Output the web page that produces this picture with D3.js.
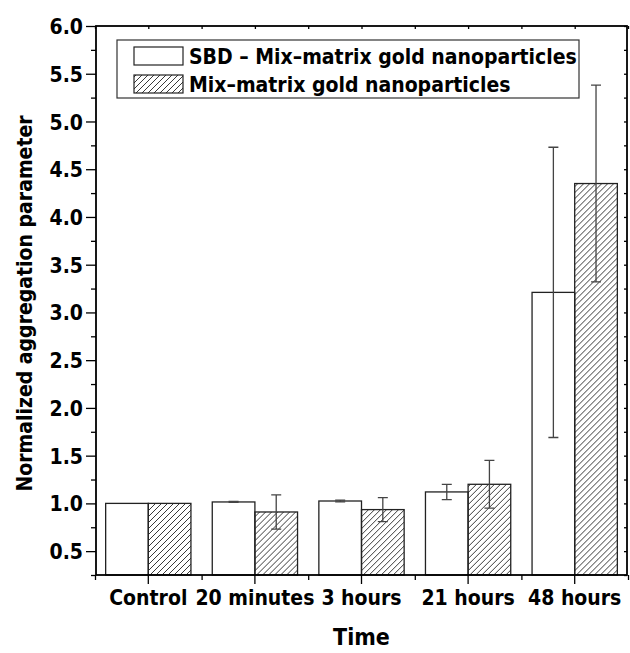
<!DOCTYPE html>
<html>
<head>
<meta charset="utf-8">
<script src="https://cdn.jsdelivr.net/npm/d3@7"></script>
<style>
  body { margin: 0; background: #fff; }
  svg { display: block; }
  text { font-family: "DejaVu Sans Condensed", "DejaVu Sans", sans-serif; font-stretch: condensed; font-weight: bold; fill: #000; }
</style>
</head>
<body>
<svg id="chart"></svg>
<script>
// data
var categories = ["Control", "20 minutes", "3 hours", "21 hours", "48 hours"];
var seriesNames = ["SBD \u2013 Mix\u2013matrix gold nanoparticles", "Mix\u2013matrix gold nanoparticles"];
var sbdValues = [1.0, 1.015, 1.025, 1.12, 3.21];
var sbdErrors = [0, 0.005, 0.01, 0.08, 1.52];
var mixValues = [1.0, 0.91, 0.935, 1.20, 4.35];
var mixErrors = [0, 0.18, 0.125, 0.25, 1.03];
var yTicks = [0.5, 1.0, 1.5, 2.0, 2.5, 3.0, 3.5, 4.0, 4.5, 5.0, 5.5, 6.0];

var width = 630, height = 653;
var plotL = 96, plotR = 627, plotT = 26, plotB = 575;

var svg = d3.select("#chart")
  .attr("width", width)
  .attr("height", height);

// hatch pattern for the second series
var defs = svg.append("defs");
defs.append("pattern")
  .attr("id", "hatch")
  .attr("patternUnits", "userSpaceOnUse")
  .attr("width", 6)
  .attr("height", 6)
  .append("path")
  .attr("d", "M-1,1 l2,-2 M0,6 l6,-6 M5,7 l2,-2")
  .attr("stroke", "#222")
  .attr("stroke-width", 0.9);

var x = d3.scaleBand().domain(categories).range([plotL - 1, plotR + 1]);
var xSub = d3.scaleBand().domain([0, 1]).range([0, x.bandwidth()]).paddingOuter(0.25);
var y = d3.scaleLinear().domain([0.25, 6.0]).range([plotB, plotT]);

var rows = categories.map(function(c, i) {
  return { cat: c, vals: [sbdValues[i], mixValues[i]], errs: [sbdErrors[i], mixErrors[i]] };
});

// bars
var groups = svg.selectAll(".grp")
  .data(rows)
  .enter().append("g")
  .attr("class", "grp")
  .attr("transform", function(d) { return "translate(" + x(d.cat) + ",0)"; });

groups.selectAll("rect")
  .data(function(d) { return d.vals.map(function(v, k) { return { k: k, v: v }; }); })
  .enter().append("rect")
  .attr("x", function(d) { return xSub(d.k); })
  .attr("width", xSub.bandwidth())
  .attr("y", function(d) { return y(d.v); })
  .attr("height", function(d) { return y(0.25) - y(d.v); })
  .attr("fill", function(d) { return d.k == 0 ? "#fff" : "url(#hatch)"; })
  .attr("stroke", "#222")
  .attr("stroke-width", 1.3);

// error bars
var capW = 5;
groups.selectAll(".err")
  .data(function(d) { return d.vals.map(function(v, k) { return { k: k, v: v, e: d.errs[k] }; }).filter(function(p) { return p.e > 0; }); })
  .enter().append("path")
  .attr("class", "err")
  .attr("fill", "none")
  .attr("stroke", "#444")
  .attr("stroke-width", 1.3)
  .attr("d", function(d) {
    var cx = xSub(d.k) + xSub.bandwidth() / 2;
    var y1 = y(d.v + d.e), y0 = y(d.v - d.e);
    return "M" + cx + "," + y1 + "V" + y0 +
      "M" + (cx - capW) + "," + y1 + "H" + (cx + capW) +
      "M" + (cx - capW) + "," + y0 + "H" + (cx + capW);
  });

// axes
var minorY = d3.range(0.25, 6.01, 0.25).filter(function(v) { return Math.abs(v * 2 - Math.round(v * 2)) > 0.01; });

var yAxis = d3.axisLeft(y).tickValues(yTicks).tickFormat(d3.format(".1f")).tickSize(10).tickPadding(3);
var gy = svg.append("g").attr("transform", "translate(" + plotL + ",0)").call(yAxis);
gy.selectAll("text").style("font-size", "21px").attr("dy", "0.36em");
svg.append("g").attr("transform", "translate(" + plotL + ",0)")
  .call(d3.axisLeft(y).tickValues(minorY).tickSize(5).tickFormat(""));

// right side mirror ticks
svg.append("g").attr("transform", "translate(" + plotR + ",0)")
  .call(d3.axisLeft(y).tickValues(yTicks.concat(minorY)).tickSize(3).tickFormat(""));

var centers = categories.map(function(c) { return x(c) + x.bandwidth() / 2; });
var bounds = categories.map(function(c) { return x(c); }).concat([x.range()[1]]);
var xLin = d3.scaleLinear().domain([0, 1]).range([0, 1]);

var xAxis = d3.axisBottom(x).tickSize(9).tickPadding(6);
var gx = svg.append("g").attr("transform", "translate(0," + plotB + ")").call(xAxis);
gx.selectAll("text").style("font-size", "21px").attr("dy", "0.71em");
svg.append("g").attr("transform", "translate(0," + plotB + ")")
  .call(d3.axisBottom(xLin).tickValues(bounds).tickSize(5).tickFormat(""));
svg.append("g").attr("transform", "translate(0," + plotT + ")")
  .call(d3.axisBottom(xLin).tickValues(centers.concat(bounds)).tickSize(3).tickFormat(""));

svg.selectAll(".domain").remove();
svg.selectAll(".tick line").attr("stroke", "#000").attr("stroke-width", 1.3);

// frame
svg.append("rect")
  .attr("x", plotL).attr("y", plotT)
  .attr("width", plotR - plotL).attr("height", plotB - plotT)
  .attr("fill", "none").attr("stroke", "#000").attr("stroke-width", 1.8);

// axis titles
svg.append("text")
  .attr("transform", "translate(32," + ((plotT + plotB) / 2 + 3) + ") rotate(-90)")
  .attr("text-anchor", "middle")
  .style("font-size", "21px")
  .text("Normalized aggregation parameter");

svg.append("text")
  .attr("x", (plotL + plotR) / 2)
  .attr("y", 645)
  .attr("text-anchor", "middle")
  .style("font-size", "23px")
  .text("Time");

// legend
var lg = svg.append("g").attr("transform", "translate(117,40)");
lg.append("rect").attr("width", 462).attr("height", 58)
  .attr("fill", "#fff").attr("stroke", "#333").attr("stroke-width", 1.2);
seriesNames.forEach(function(name, k) {
  lg.append("rect")
    .attr("x", 17).attr("y", 7 + k * 28)
    .attr("width", 49).attr("height", 18)
    .attr("fill", k == 0 ? "#fff" : "url(#hatch)")
    .attr("stroke", "#222").attr("stroke-width", 1.2);
  lg.append("text")
    .attr("x", 72).attr("y", 24 + k * 28)
    .style("font-size", "21px")
    .text(name);
});
</script>
</body>
</html>
